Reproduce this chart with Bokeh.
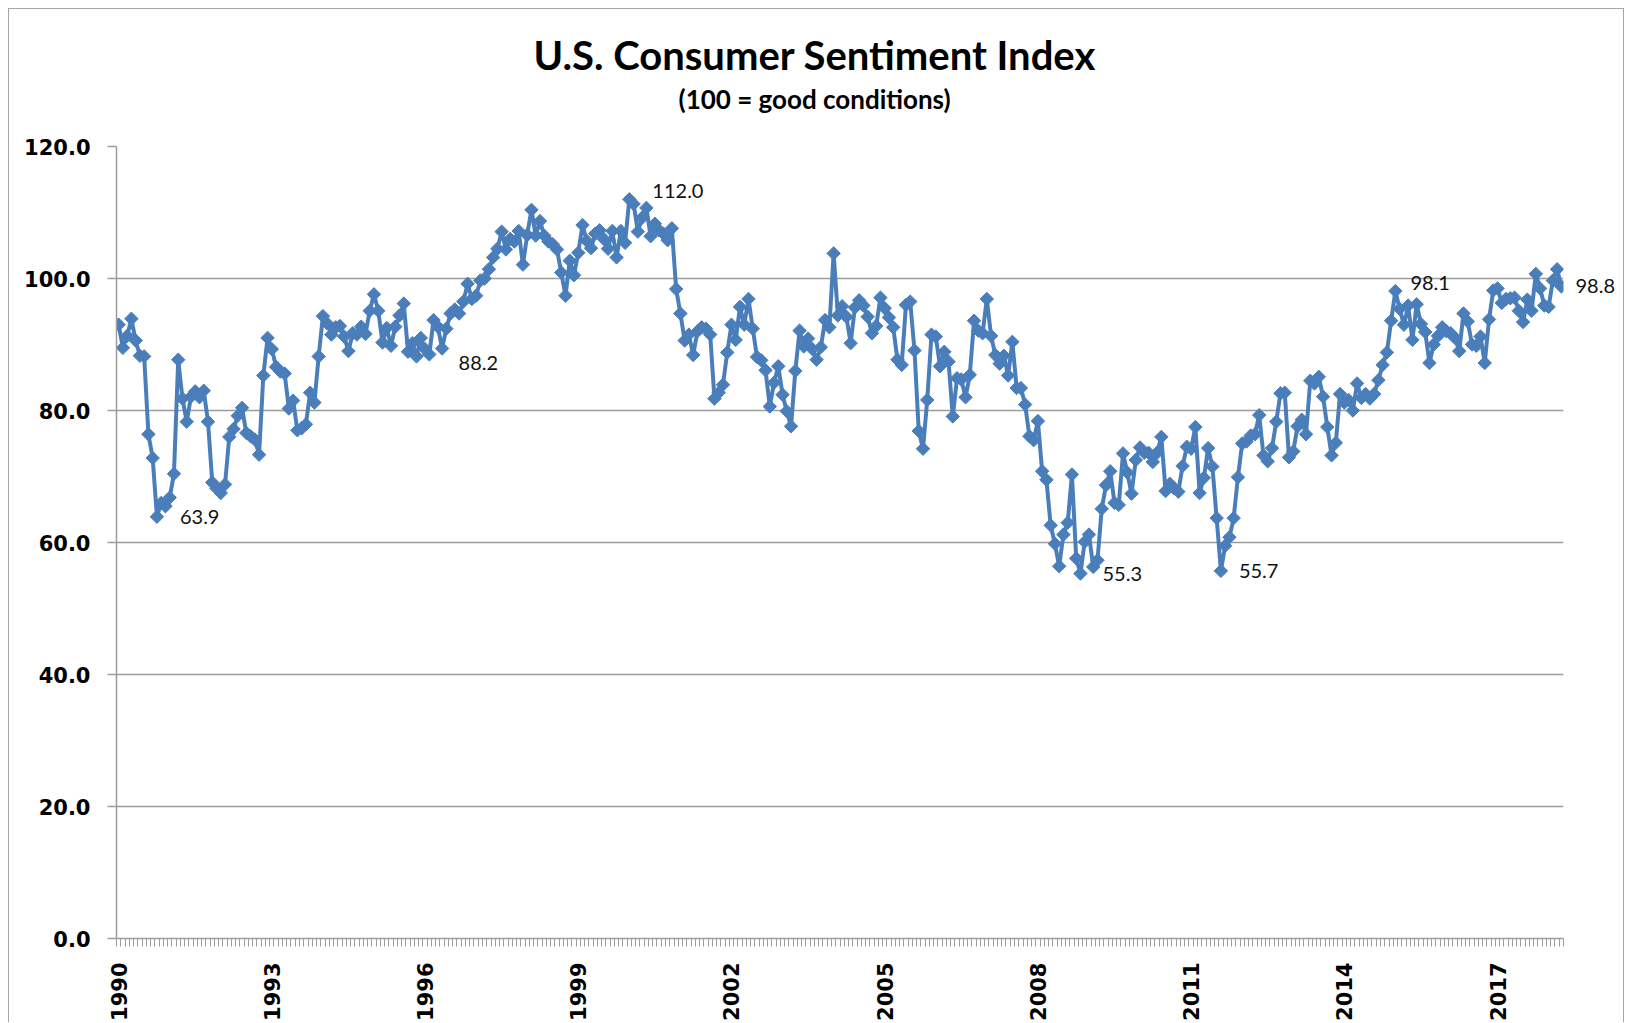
import math
from bokeh.plotting import figure
from bokeh.models import Range1d, FixedTicker, PrintfTickFormatter, Label, LinearAxis, Title
from bokeh.embed import file_html
from bokeh.resources import INLINE

# ---------------- data ----------------
start_year = 1990
label_years = [1990, 1993, 1996, 1999, 2002, 2005, 2008, 2011, 2014, 2017]

sent_1990 = [93.0, 89.5, 91.3, 93.9, 90.6, 88.3, 88.2, 76.4, 72.8, 63.9, 66.0, 65.5]
sent_1991 = [66.8, 70.4, 87.7, 81.8, 78.3, 82.1, 82.9, 82.0, 83.0, 78.3, 69.1, 68.2]
sent_1992 = [67.5, 68.8, 76.0, 77.2, 79.2, 80.4, 76.6, 76.1, 75.6, 73.3, 85.3, 91.0]
sent_1993 = [89.3, 86.6, 85.9, 85.6, 80.3, 81.5, 77.0, 77.3, 77.9, 82.7, 81.2, 88.2]
sent_1994 = [94.3, 93.2, 91.5, 92.6, 92.8, 91.2, 89.0, 91.7, 91.5, 92.7, 91.6, 95.1]
sent_1995 = [97.6, 95.1, 90.3, 92.5, 89.8, 92.7, 94.4, 96.2, 88.9, 90.2, 88.2, 91.0]
sent_1996 = [89.3, 88.5, 93.7, 92.7, 89.4, 92.4, 94.7, 95.3, 94.7, 96.5, 99.2, 96.9]
sent_1997 = [97.4, 99.7, 100.0, 101.4, 103.2, 104.5, 107.1, 104.4, 106.0, 105.6, 107.2, 102.1]
sent_1998 = [106.6, 110.4, 106.5, 108.7, 106.5, 105.6, 105.2, 104.4, 100.9, 97.4, 102.7, 100.5]
sent_1999 = [103.9, 108.1, 105.7, 104.6, 106.8, 107.3, 106.0, 104.5, 107.2, 103.2, 107.2, 105.4]
sent_2000 = [112.0, 111.3, 107.1, 109.2, 110.7, 106.4, 108.3, 107.3, 106.8, 105.8, 107.6, 98.4]
sent_2001 = [94.7, 90.6, 91.5, 88.4, 92.0, 92.6, 92.4, 91.5, 81.8, 82.7, 83.9, 88.8]
sent_2002 = [93.0, 90.7, 95.7, 93.0, 96.9, 92.4, 88.1, 87.6, 86.1, 80.6, 84.2, 86.7]
sent_2003 = [82.4, 79.9, 77.6, 86.0, 92.1, 89.7, 90.9, 89.3, 87.7, 89.6, 93.7, 92.6]
sent_2004 = [103.8, 94.4, 95.8, 94.2, 90.2, 95.6, 96.7, 95.9, 94.2, 91.7, 92.8, 97.1]
sent_2005 = [95.5, 94.1, 92.6, 87.7, 86.9, 96.0, 96.5, 89.1, 76.9, 74.2, 81.6, 91.5]
sent_2006 = [91.2, 86.7, 88.9, 87.4, 79.1, 84.9, 84.7, 82.0, 85.4, 93.6, 92.1, 91.7]
sent_2007 = [96.9, 91.3, 88.4, 87.1, 88.3, 85.3, 90.4, 83.4, 83.4, 80.9, 76.1, 75.5]
sent_2008 = [78.4, 70.8, 69.5, 62.6, 59.8, 56.4, 61.2, 63.0, 70.3, 57.6, 55.3, 60.1]
sent_2009 = [61.2, 56.3, 57.3, 65.1, 68.7, 70.8, 66.0, 65.7, 73.5, 70.6, 67.4, 72.5]
sent_2010 = [74.4, 73.6, 73.6, 72.2, 73.6, 76.0, 67.8, 68.9, 68.2, 67.7, 71.6, 74.5]
sent_2011 = [74.2, 77.5, 67.5, 69.8, 74.3, 71.5, 63.7, 55.7, 59.5, 60.8, 63.7, 69.9]
sent_2012 = [75.0, 75.3, 76.2, 76.4, 79.3, 73.2, 72.3, 74.3, 78.3, 82.6, 82.7, 72.9]
sent_2013 = [73.8, 77.6, 78.6, 76.4, 84.5, 84.1, 85.1, 82.1, 77.5, 73.2, 75.1, 82.5]
sent_2014 = [81.2, 81.6, 80.0, 84.1, 81.9, 82.5, 81.8, 82.5, 84.6, 86.9, 88.8, 93.6]
sent_2015 = [98.1, 95.4, 93.0, 95.9, 90.7, 96.1, 93.1, 91.9, 87.2, 90.0, 91.3, 92.6]
sent_2016 = [92.0, 91.7, 91.0, 89.0, 94.7, 93.5, 90.0, 89.8, 91.2, 87.2, 93.8, 98.2]
sent_2017 = [98.5, 96.3, 96.9, 97.0, 97.1, 95.1, 93.4, 96.8, 95.1, 100.7, 98.5, 95.9]
sent_2018 = [95.7, 99.7, 101.4, 98.8]

sentiment = (sent_1990 + sent_1991 + sent_1992 + sent_1993 + sent_1994 + sent_1995 +
             sent_1996 + sent_1997 + sent_1998 + sent_1999 + sent_2000 + sent_2001 +
             sent_2002 + sent_2003 + sent_2004 + sent_2005 + sent_2006 + sent_2007 +
             sent_2008 + sent_2009 + sent_2010 + sent_2011 + sent_2012 + sent_2013 +
             sent_2014 + sent_2015 + sent_2016 + sent_2017 + sent_2018)

# annotated points inside the plot: (year, month 1-12); the last value is labelled at the right edge
annot_months = [(1990, 10), (1995, 11), (2000, 1), (2008, 11), (2011, 8), (2015, 1)]

y_ticks = [0, 20, 40, 60, 80, 100, 120]

title_text = "U.S. Consumer Sentiment Index"
subtitle_text = "(100 = good conditions)"

# ---------------- layout / style ----------------
N = len(sentiment)
months = list(range(N))

BLUE = "#4a7ebb"
GRAY = "#9d9d9d"

W, H = 1616, 1014
ML, MR, MT, MB = 107, 62, 137, 85

p = figure(width=W, height=H,
           x_range=Range1d(-0.5, N - 0.5), y_range=Range1d(0, 120),
           output_backend="svg", toolbar_location=None,
           min_border_left=ML, min_border_right=MR,
           min_border_top=MT, min_border_bottom=MB,
           outline_line_color=None, background_fill_color="white",
           border_fill_color="white",
           styles={"margin-left": "8px", "margin-top": "8px",
                   "border-top": "1px solid #a6a6a6",
                   "border-left": "1px solid #a6a6a6",
                   "border-right": "1px solid #a6a6a6"})

# grid
p.xgrid.visible = False
p.ygrid.ticker = FixedTicker(ticks=y_ticks)
p.ygrid.grid_line_color = GRAY
p.ygrid.grid_line_width = 1.5

# y axis
yax = p.yaxis[0]
yax.ticker = FixedTicker(ticks=y_ticks)
yax.formatter = PrintfTickFormatter(format="%.1f")
yax.axis_line_color = GRAY
yax.axis_line_width = 1.5
yax.major_tick_line_color = GRAY
yax.major_tick_line_width = 1.5
yax.major_tick_out = 9
yax.major_tick_in = 0
yax.minor_tick_line_color = None
yax.major_label_text_font = "DejaVu Sans"
yax.major_label_text_font_style = "bold"
yax.major_label_text_font_size = "21px"
yax.major_label_text_color = "black"
yax.major_label_standoff = 17

# x axis
label_idx = [(y - start_year) * 12 for y in label_years]
xax = p.xaxis[0]
xax.ticker = FixedTicker(ticks=label_idx, minor_ticks=[i - 0.5 for i in range(N + 1)])
xax.major_label_overrides = {i: str(y) for i, y in zip(label_idx, label_years)}
xax.axis_line_color = GRAY
xax.axis_line_width = 1.5
xax.major_tick_line_color = None
xax.major_tick_out = 0
xax.major_tick_in = 0
xax.minor_tick_line_color = GRAY
xax.minor_tick_line_width = 1
xax.minor_tick_out = 8
xax.minor_tick_in = 0
xax.major_label_orientation = math.pi / 2
xax.major_label_text_font = "DejaVu Sans"
xax.major_label_text_font_style = "bold"
xax.major_label_text_font_size = "21px"
xax.major_label_text_color = "black"
xax.major_label_standoff = 16

# right-edge label for the latest value
last_val = sentiment[-1]
rax = LinearAxis(ticker=FixedTicker(ticks=[last_val]),
                 major_label_overrides={last_val: f"{last_val:.1f}"})
rax.axis_line_color = None
rax.major_tick_line_color = None
rax.minor_tick_line_color = None
rax.major_tick_out = 0
rax.major_tick_in = 0
rax.major_label_standoff = 12
rax.major_label_text_font = "Lato"
rax.major_label_text_font_size = "20px"
rax.major_label_text_color = "#111111"
p.add_layout(rax, "right")

# series
p.line(months, sentiment, line_color=BLUE, line_width=4)
p.scatter(months, sentiment, marker="square", angle=math.pi / 4, size=9.5,
          fill_color=BLUE, line_color=BLUE)

# data labels
label_offsets = [(23, 0), (42, -7), (23, 8), (22, 0), (18, 0), (15, 8)]
for (yr, mo), (dx, dy) in zip(annot_months, label_offsets):
    i = (yr - start_year) * 12 + (mo - 1)
    v = sentiment[i]
    p.add_layout(Label(x=i, y=v, text=f"{v:.1f}", x_offset=dx, y_offset=dy,
                       text_font="Lato", text_font_size="20px",
                       text_color="#111111", text_align="left",
                       text_baseline="middle"))

# titles
sub = Title(text=subtitle_text, align="left", offset=562, standoff=63.5,
            text_font="Lato", text_font_style="bold", text_font_size="26px",
            text_color="black")
main = Title(text=title_text, align="left", offset=417, standoff=-60,
             text_font="Lato", text_font_style="bold", text_font_size="40px",
             text_color="black")
p.add_layout(sub, "above")
p.add_layout(main, "above")

open("out.html", "w").write(file_html(p, INLINE))
